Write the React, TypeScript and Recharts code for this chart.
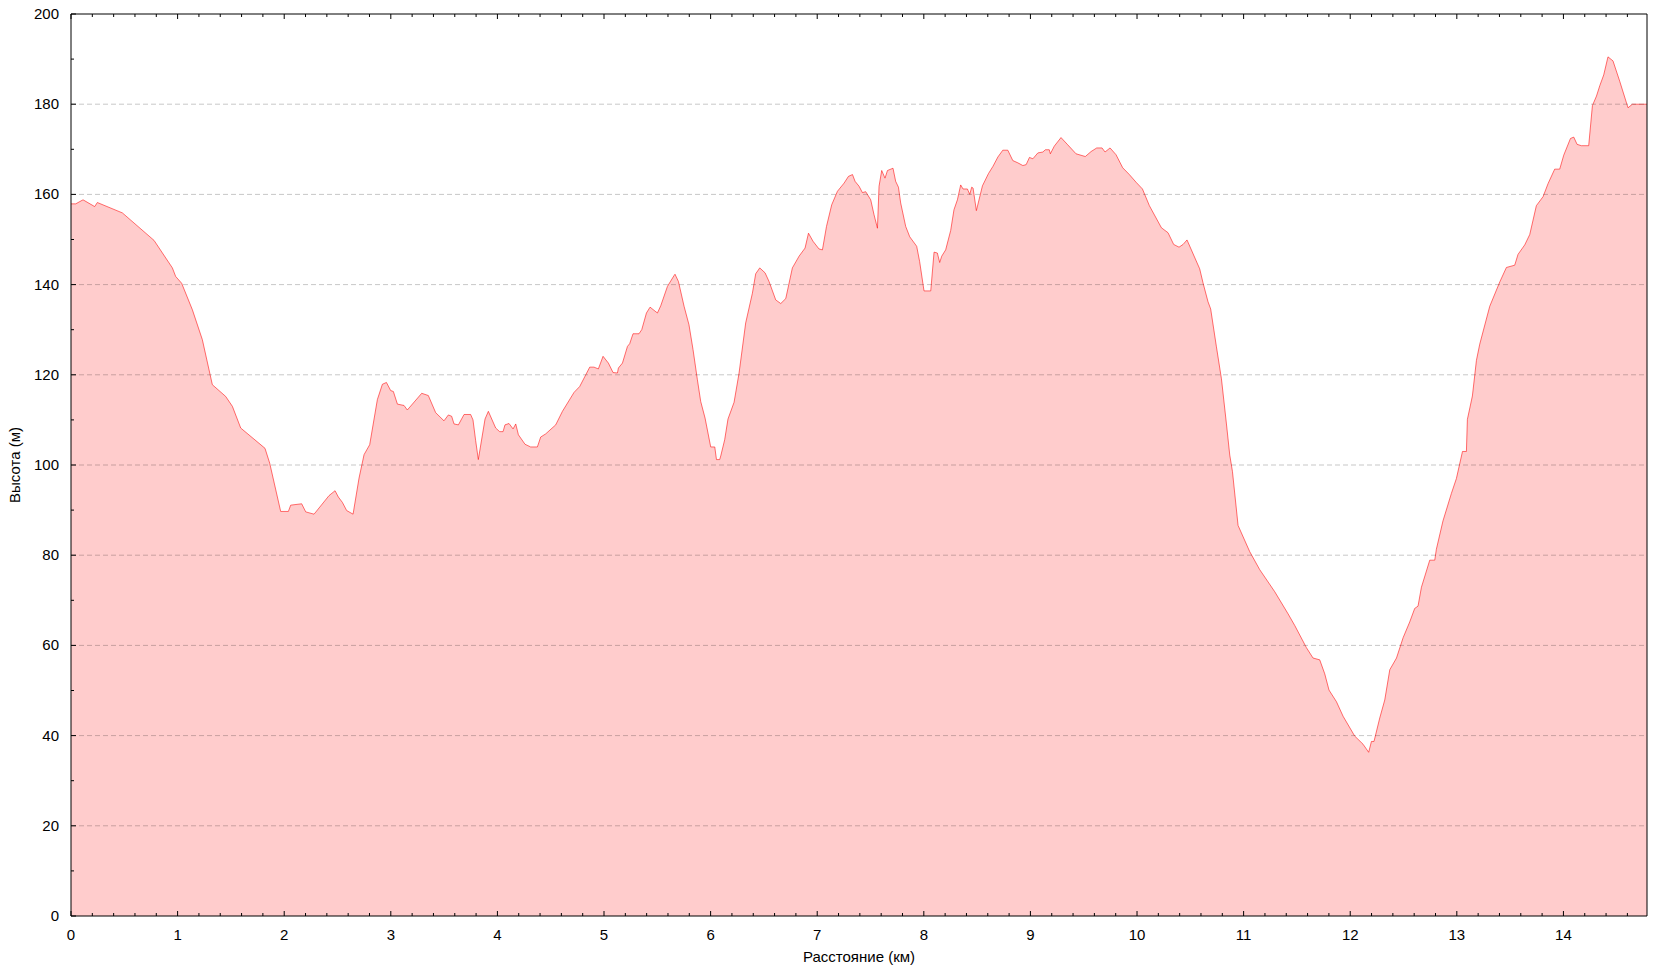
import { AreaChart, Area, XAxis, YAxis, ReferenceLine } from "recharts"

// Distance along the track (km) and elevation (m)
const distanceKm = [
  0, 0.044, 0.113, 0.222, 0.247, 0.482, 0.779, 0.951, 0.982, 1.038, 1.139, 1.232, 1.326, 1.451, 1.514, 1.592,
  1.82, 1.864, 1.967, 2.039, 2.061, 2.164, 2.202, 2.28, 2.42, 2.477, 2.508, 2.546, 2.586, 2.646, 2.702, 2.749,
  2.802, 2.874, 2.921, 2.959, 2.999, 3.024, 3.062, 3.124, 3.155, 3.29, 3.352, 3.421, 3.499, 3.54, 3.571, 3.593,
  3.634, 3.687, 3.749, 3.771, 3.796, 3.821, 3.884, 3.915, 3.984, 4.021, 4.053, 4.071, 4.109, 4.147, 4.172, 4.197,
  4.259, 4.312, 4.375, 4.406, 4.453, 4.547, 4.61, 4.719, 4.772, 4.866, 4.906, 4.947, 4.991, 5.041, 5.085, 5.126,
  5.135, 5.173, 5.22, 5.241, 5.272, 5.328, 5.354, 5.398, 5.432, 5.501, 5.532, 5.595, 5.657, 5.666, 5.698, 5.751,
  5.797, 5.835, 5.876, 5.907, 5.948, 6.001, 6.039, 6.055, 6.085, 6.095, 6.132, 6.163, 6.22, 6.267, 6.329, 6.392,
  6.423, 6.461, 6.511, 6.548, 6.611, 6.658, 6.705, 6.767, 6.83, 6.886, 6.918, 6.961, 7.017, 7.049, 7.087, 7.136,
  7.19, 7.252, 7.293, 7.331, 7.355, 7.393, 7.424, 7.455, 7.502, 7.533, 7.565, 7.58, 7.605, 7.636, 7.659, 7.711,
  7.736, 7.762, 7.783, 7.83, 7.868, 7.933, 7.961, 8.002, 8.065, 8.096, 8.127, 8.149, 8.168, 8.205, 8.252, 8.283,
  8.315, 8.346, 8.368, 8.409, 8.431, 8.449, 8.462, 8.493, 8.55, 8.606, 8.648, 8.695, 8.741, 8.788, 8.835, 8.882,
  8.929, 8.96, 8.991, 9.023, 9.07, 9.117, 9.14, 9.177, 9.187, 9.224, 9.287, 9.35, 9.428, 9.515, 9.569, 9.622,
  9.672, 9.7, 9.747, 9.803, 9.866, 9.928, 9.991, 10.051, 10.116, 10.229, 10.291, 10.344, 10.394, 10.432, 10.469,
  10.588, 10.619, 10.666, 10.691, 10.745, 10.792, 10.838, 10.87, 10.895, 10.948, 11.057, 11.151, 11.292, 11.417,
  11.48, 11.589, 11.651, 11.714, 11.761, 11.801, 11.871, 11.933, 12.042, 12.12, 12.173, 12.199, 12.223, 12.277,
  12.324, 12.371, 12.434, 12.496, 12.558, 12.605, 12.636, 12.668, 12.746, 12.793, 12.808, 12.87, 12.949, 12.996,
  13.053, 13.09, 13.099, 13.146, 13.184, 13.215, 13.309, 13.403, 13.465, 13.543, 13.574, 13.637, 13.684, 13.746,
  13.809, 13.856, 13.918, 13.965, 14.003, 14.066, 14.097, 14.128, 14.168, 14.237, 14.272, 14.31, 14.341, 14.378,
  14.418, 14.465, 14.528, 14.606, 14.647, 14.784,
]

const elevationM = [
  157.9, 157.9, 158.8, 157.3, 158.2, 155.9, 149.8, 143.7, 141.8, 140.3, 134.4, 127.8, 117.8, 115.2, 113.0, 108.2,
  103.7, 100.4, 89.7, 89.7, 91.1, 91.4, 89.6, 89.1, 93.2, 94.3, 92.9, 91.7, 89.9, 89.1, 97.1, 102.3,
  104.5, 114.5, 117.9, 118.3, 116.5, 116.3, 113.5, 113.2, 112.2, 115.9, 115.4, 111.6, 109.8, 111.1, 110.8, 109.1,
  108.9, 111.2, 111.2, 110.0, 105.4, 101.2, 110.2, 111.9, 108.2, 107.4, 107.4, 108.9, 109.2, 108.0, 109.1, 106.7,
  104.6, 104.0, 104.0, 106.2, 106.9, 108.9, 111.9, 116.1, 117.4, 121.7, 121.7, 121.3, 124.1, 122.6, 120.5, 120.4,
  121.5, 122.6, 126.3, 126.9, 129.1, 129.1, 130.0, 133.7, 135.0, 133.7, 135.3, 139.6, 142.0, 142.3, 140.7, 135.2,
  131.1, 125.6, 118.9, 114.1, 110.4, 104.0, 104.0, 101.2, 101.2, 102.0, 105.6, 110.2, 113.9, 120.4, 131.5, 138.1,
  142.4, 143.7, 142.6, 140.7, 136.6, 135.8, 136.9, 143.7, 146.3, 148.1, 151.4, 149.6, 147.9, 147.7, 152.9, 157.7,
  160.7, 162.5, 164.0, 164.4, 162.9, 161.8, 160.4, 160.6, 158.8, 155.5, 152.5, 161.8, 165.3, 163.6, 165.3, 165.8,
  162.9, 161.6, 158.1, 152.9, 150.6, 148.5, 145.1, 138.6, 138.6, 147.2, 147.0, 144.9, 146.3, 147.7, 152.0, 156.6,
  158.8, 162.1, 161.2, 161.2, 160.0, 161.6, 161.4, 156.4, 161.9, 164.6, 166.2, 168.3, 169.8, 169.8, 167.5, 167.0,
  166.4, 166.6, 168.2, 167.9, 169.2, 169.4, 169.9, 169.9, 169.0, 170.7, 172.6, 171.0, 169.0, 168.4, 169.5, 170.3,
  170.3, 169.4, 170.3, 168.8, 165.9, 164.4, 162.7, 161.2, 157.5, 152.6, 151.5, 148.9, 148.3, 148.9, 149.9,
  143.5, 140.4, 136.2, 134.6, 126.2, 119.1, 109.3, 102.2, 98.6, 86.6, 80.8, 76.8, 71.9, 67.0,
  64.4, 59.5, 57.2, 56.8, 53.7, 50.1, 47.5, 44.3, 39.9, 38.1, 36.3, 38.7, 38.7, 43.9,
  47.9, 54.6, 57.2, 61.7, 65.2, 68.2, 68.7, 72.9, 78.9, 78.9, 81.3, 87.6, 93.7, 97.0,
  103.0, 103.0, 110.1, 115.3, 123.2, 126.8, 135.2, 140.6, 143.8, 144.3, 146.7, 148.8, 151.1, 157.5,
  159.5, 162.4, 165.6, 165.6, 168.7, 172.4, 172.7, 171.1, 170.8, 170.8, 179.7, 181.8, 184.1, 186.5,
  190.5, 189.6, 185.1, 179.2, 180.0, 180.0,
]

const xTicks = Array.from({ length: 74 }, (_, i) => Math.round(i * 2) / 10) // every 0.2 km, labels on whole km
const yTicks = Array.from({ length: 21 }, (_, i) => i * 10) // every 10 m, labels every 20 m
const gridValues = [20, 40, 60, 80, 100, 120, 140, 160, 180]

const data = distanceKm.map((km, i) => ({ km, m: elevationM[i] }))

const font = "'Liberation Sans', Arial, sans-serif"
const isMajorX = (v: number) => Math.abs(v - Math.round(v)) < 1e-6
const isMajorY = (v: number) => v % 20 === 0

const BottomTick = ({ x, y, payload }: any) => {
  const major = isMajorX(payload.value)
  return (
    <g>
      <line x1={x} x2={x} y1={y} y2={y - (major ? 5 : 3)} stroke="#000" />
      {major && (
        <text x={x} y={y + 24} textAnchor="middle" fontSize={15} fontFamily={font} fill="#000">
          {Math.round(payload.value)}
        </text>
      )}
    </g>
  )
}

const TopTick = ({ x, y, payload }: any) => (
  <line x1={x} x2={x} y1={y} y2={y + (isMajorX(payload.value) ? 5 : 3)} stroke="#000" />
)

const LeftTick = ({ x, y, payload }: any) => {
  const major = isMajorY(payload.value)
  return (
    <g>
      <line x1={x} x2={x + (major ? 5 : 3)} y1={y} y2={y} stroke="#000" />
      {major && (
        <text x={x - 12} y={y + 5} textAnchor="end" fontSize={15} fontFamily={font} fill="#000">
          {payload.value}
        </text>
      )}
    </g>
  )
}

const RightTick = ({ x, y, payload }: any) => (
  <line x1={x} x2={x - (isMajorY(payload.value) ? 5 : 3)} y1={y} y2={y} stroke="#000" />
)

export default function App() {
  return (
    <div style={{ position: "absolute", left: 0, top: 0, width: 1662, height: 971, background: "#fff" }}>
      <AreaChart width={1662} height={971} data={data} margin={{ top: 13, right: 14, bottom: 0, left: 11 }}>
        <XAxis
          dataKey="km"
          type="number"
          domain={[0, 14.784]}
          ticks={xTicks}
          interval={0}
          height={55}
          tickSize={0}
          tickMargin={0}
          tickLine={false}
          axisLine={{ stroke: "#000" }}
          tick={<BottomTick />}
          label={{
            content: ({ viewBox }: any) => (
              <text
                x={viewBox.x + viewBox.width / 2}
                y={viewBox.y + 46}
                textAnchor="middle"
                fontSize={15}
                fontFamily={font}
                fill="#000"
              >
                Расстояние (км)
              </text>
            ),
          }}
        />
        <XAxis
          xAxisId="top"
          orientation="top"
          dataKey="km"
          type="number"
          domain={[0, 14.784]}
          ticks={xTicks}
          interval={0}
          height={1}
          tickSize={0}
          tickMargin={0}
          tickLine={false}
          axisLine={{ stroke: "#000" }}
          tick={<TopTick />}
        />
        <YAxis
          domain={[0, 200]}
          ticks={yTicks}
          interval={0}
          width={60}
          tickSize={0}
          tickMargin={0}
          tickLine={false}
          axisLine={{ stroke: "#000" }}
          tick={<LeftTick />}
          label={{
            content: ({ viewBox }: any) => {
              const cx = viewBox.x + 3
              const cy = viewBox.y + viewBox.height / 2
              return (
                <text
                  x={cx}
                  y={cy}
                  transform={`rotate(-90 ${cx} ${cy})`}
                  textAnchor="middle"
                  dominantBaseline="central"
                  fontSize={15}
                  fontFamily={font}
                  fill="#000"
                >
                  Высота (м)
                </text>
              )
            },
          }}
        />
        <YAxis
          yAxisId="right"
          orientation="right"
          domain={[0, 200]}
          ticks={yTicks}
          interval={0}
          width={1}
          tickSize={0}
          tickMargin={0}
          tickLine={false}
          axisLine={{ stroke: "#000" }}
          tick={<RightTick />}
        />
        <Area
          type="linear"
          dataKey="m"
          stroke="#ff0000"
          strokeOpacity={0.55}
          strokeWidth={1}
          fill="#ff0000"
          fillOpacity={0.2}
          isAnimationActive={false}
        />
        {gridValues.map((v) => (
          <ReferenceLine key={v} y={v} stroke="#000" strokeOpacity={0.22} strokeDasharray="5 3" />
        ))}
      </AreaChart>
    </div>
  )
}
